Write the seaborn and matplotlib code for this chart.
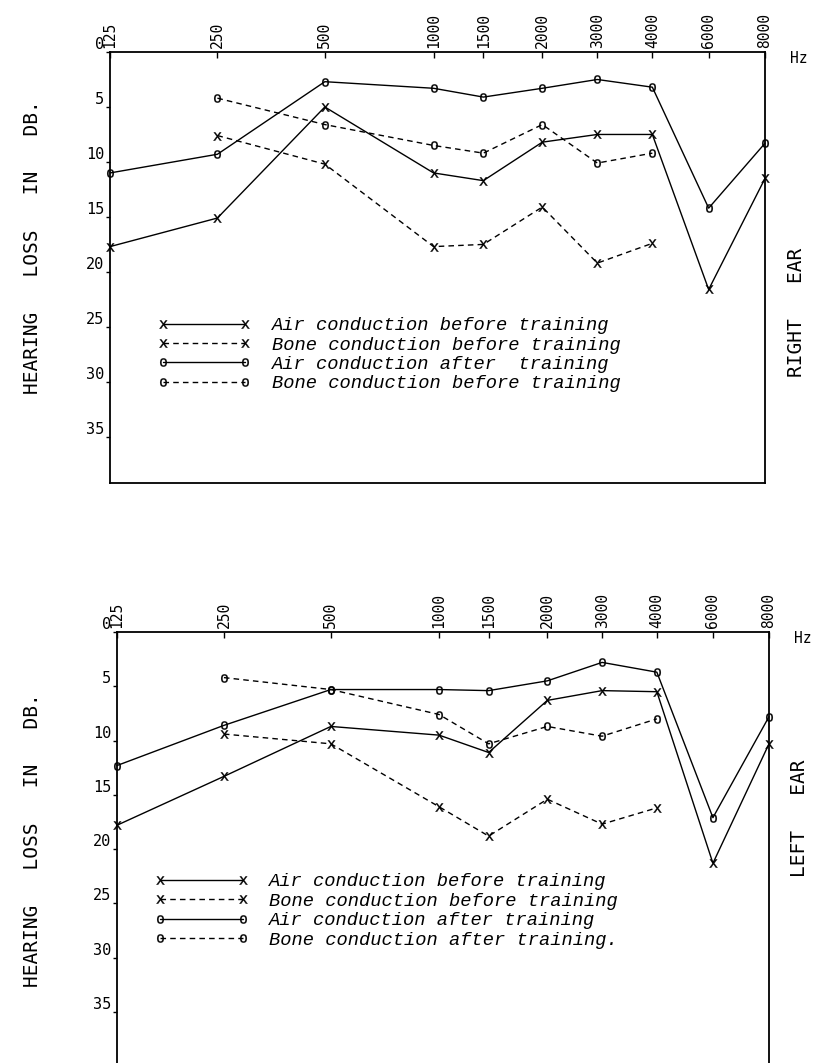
import numpy as np
import pandas as pd
import matplotlib
matplotlib.use("Agg")
import matplotlib.pyplot as plt
import seaborn as sns

# ---------------- data ----------------
FREQS = [125, 250, 500, 1000, 1500, 2000, 3000, 4000, 6000, 8000]
FREQ_LABELS = ["125", "250", "500", "1000", "1500", "2000", "3000", "4000", "6000", "8000"]
BONE_FREQS = [250, 500, 1000, 1500, 2000, 3000, 4000]
DB_TICKS = [0, 5, 10, 15, 20, 25, 30, 35]

SERIES = ["Air before", "Bone before", "Air after", "Bone after"]

RIGHT_AIR_BEFORE = [17.7, 15.1, 5.0, 11.0, 11.7, 8.2, 7.5, 7.5, 21.6, 11.5]
RIGHT_BONE_BEFORE = [7.6, 10.2, 17.7, 17.5, 14.1, 19.2, 17.4]
RIGHT_AIR_AFTER = [11.0, 9.3, 2.7, 3.3, 4.1, 3.3, 2.5, 3.2, 14.2, 8.3]
RIGHT_BONE_AFTER = [4.2, 6.6, 8.5, 9.2, 6.6, 10.1, 9.2]

LEFT_AIR_BEFORE = [17.8, 13.3, 8.7, 9.5, 11.1, 6.3, 5.4, 5.5, 21.3, 10.3]
LEFT_BONE_BEFORE = [9.4, 10.3, 16.1, 18.8, 15.4, 17.7, 16.2]
LEFT_AIR_AFTER = [12.3, 8.6, 5.3, 5.3, 5.4, 4.5, 2.8, 3.7, 17.1, 7.8]
LEFT_BONE_AFTER = [4.2, 5.3, 7.6, 10.3, 8.7, 9.6, 8.0]

LEGEND_RIGHT = ["Air conduction before training",
                "Bone conduction before training",
                "Air conduction after  training",
                "Bone conduction before training"]
LEGEND_LEFT = ["Air conduction before training",
               "Bone conduction before training",
               "Air conduction after training",
               "Bone conduction after training."]

Y_LABEL = "HEARING   LOSS   IN   DB."

# ---------------- audiogram form frequency scale ----------------
# relative position of each frequency line on the printed form
AXIS_FRAC = [0.0, 0.164, 0.328, 0.494, 0.570, 0.660, 0.744, 0.828, 0.914, 1.0]
LOG_F = np.log2(FREQS)


def fwd(f):
    f = np.asarray(f, dtype=float)
    return np.interp(np.log2(np.maximum(f, 1.0)), LOG_F, AXIS_FRAC)


def inv(v):
    v = np.asarray(v, dtype=float)
    return 2.0 ** np.interp(v, AXIS_FRAC, LOG_F)


def make_df(air_b, bone_b, air_a, bone_a):
    parts = []
    for name, fr, vals in [(SERIES[0], FREQS, air_b), (SERIES[1], BONE_FREQS, bone_b),
                           (SERIES[2], FREQS, air_a), (SERIES[3], BONE_FREQS, bone_a)]:
        parts.append(pd.DataFrame({"freq": fr, "db": vals, "series": name}))
    return pd.concat(parts, ignore_index=True)


sns.set_theme(style="white")
plt.rcParams["font.family"] = ["DejaVu Sans Mono", "DejaVu Sans"]
plt.rcParams["text.color"] = "black"

MONO = "DejaVu Sans Mono"
LEG_PROP = {"family": "Liberation Mono", "style": "italic", "size": 13.5}

fig = plt.figure(figsize=(8.2, 10.63), dpi=100)
ax_r = fig.add_axes([110 / 820, 1 - 483 / 1063, 655 / 820, 431 / 1063])
ax_l = fig.add_axes([117 / 820, 0.0, 652 / 820, 431 / 1063])

MK_X = r"$\mathtt{x}$"
MK_O = r"$\mathtt{o}$"
dashes = {SERIES[0]: "", SERIES[1]: (4, 3), SERIES[2]: "", SERIES[3]: (4, 3)}
markers = {SERIES[0]: MK_X, SERIES[1]: MK_X, SERIES[2]: MK_O, SERIES[3]: MK_O}


def draw(ax, df, ymax, labels, leg_anchor, hide_bottom):
    sns.lineplot(data=df, x="freq", y="db", style="series", style_order=SERIES,
                 dashes=dashes, markers=markers, color="black", estimator=None,
                 errorbar=None, sort=False, legend=False, ax=ax,
                 linewidth=1.0, markersize=6, mec="black", mfc="black", mew=0.2,
                 clip_on=False)
    ax.set_xscale("function", functions=(fwd, inv))
    ax.set_xlim(125, 8000)
    ax.set_ylim(ymax, 0)
    ax.set_xticks(FREQS)
    ax.set_xticklabels(FREQ_LABELS, rotation=90, fontsize=10.5, family=MONO)
    ax.xaxis.tick_top()
    ax.xaxis.set_label_position("top")
    ax.tick_params(axis="x", which="major", direction="in", length=4, width=1,
                   color="black", pad=3, labelcolor="black")
    ax.set_yticks(DB_TICKS)
    ax.set_yticklabels([str(t) for t in DB_TICKS], fontsize=11, family=MONO)
    ax.tick_params(axis="y", direction="out", length=3, width=1, color="black",
                   pad=1, left=True, labelcolor="black")
    for lab in ax.get_yticklabels():
        lab.set_verticalalignment("bottom")
    ax.set_xlabel("")
    ax.set_ylabel("")
    for s in ax.spines.values():
        s.set_color("black")
        s.set_linewidth(1.3)
    if hide_bottom:
        ax.spines["bottom"].set_visible(False)
    ax.annotate("Hz", xy=(1, 1), xycoords="axes fraction", xytext=(24, -5),
                textcoords="offset points", ha="center", va="center",
                fontsize=10.5, family=MONO, color="black")
    handles = ax.get_lines()[:4]
    leg = ax.legend(handles=handles, labels=labels, numpoints=2, loc="upper left",
                    bbox_to_anchor=leg_anchor, frameon=False, prop=LEG_PROP,
                    handlelength=5.0, handletextpad=1.1, labelspacing=0.12,
                    borderpad=0, borderaxespad=0)
    for t in leg.get_texts():
        t.set_color("black")


draw(ax_r, make_df(RIGHT_AIR_BEFORE, RIGHT_BONE_BEFORE, RIGHT_AIR_AFTER, RIGHT_BONE_AFTER),
     39.2, LEGEND_RIGHT, (0.072, 0.385), False)
draw(ax_l, make_df(LEFT_AIR_BEFORE, LEFT_BONE_BEFORE, LEFT_AIR_AFTER, LEFT_BONE_AFTER),
     39.7, LEGEND_LEFT, (0.058, 0.44), True)

fig.text(33 / 820, 1 - 247 / 1063, Y_LABEL, rotation=90, ha="center", va="center",
         fontsize=14, family=MONO, color="black")
fig.text(33 / 820, 1 - 840 / 1063, Y_LABEL, rotation=90, ha="center", va="center",
         fontsize=14, family=MONO, color="black")
fig.text(797 / 820, 1 - 312 / 1063, "RIGHT   EAR", rotation=90, ha="center", va="center",
         fontsize=14, family=MONO, color="black")
fig.text(800 / 820, 1 - 818 / 1063, "LEFT   EAR", rotation=90, ha="center", va="center",
         fontsize=14, family=MONO, color="black")

fig.savefig("out.png", dpi=100, facecolor="white")
